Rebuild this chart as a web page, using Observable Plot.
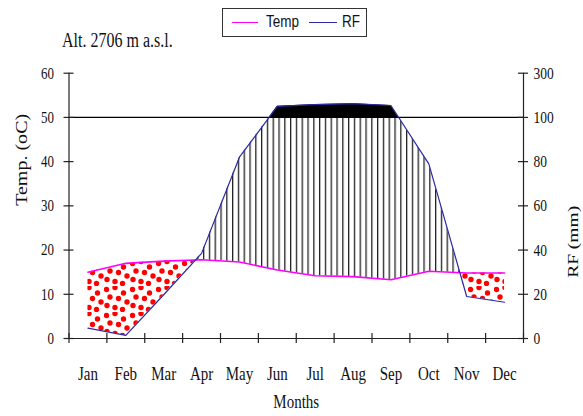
<!DOCTYPE html>
<html><head><meta charset="utf-8">
<script src="https://cdn.jsdelivr.net/npm/d3@7"></script>
<script src="https://cdn.jsdelivr.net/npm/@observablehq/plot@0.6"></script>
<style>
html,body{margin:0;padding:0;background:#fff;}
#wrap{position:relative;width:583px;height:416px;overflow:hidden;}
#wrap svg{position:absolute;left:0;top:0;}
.title{position:absolute;left:62px;top:32px;font-size:16px;line-height:17px;font-family:"Liberation Serif",serif;transform:scaleY(1.25);transform-origin:left center;white-space:nowrap;color:#111;}
.legend{position:absolute;left:222px;top:8px;width:145px;height:29px;border:1.5px solid #333;box-sizing:border-box;background:#fff;font-family:"Liberation Sans",sans-serif;font-size:13.5px;}
.legend .ln{position:absolute;top:13px;height:0;border-top:1.6px solid;}
.legend .tx{position:absolute;top:5px;line-height:16px;transform:scaleY(1.25);transform-origin:left center;color:#111;}
</style></head><body>
<div id="wrap">
  <div class="title">Alt. 2706 m a.s.l.</div>
  <div class="legend">
    <div class="ln" style="left:9px;width:26px;border-color:#ff00ff"></div>
    <div class="tx" style="left:43px">Temp</div>
    <div class="ln" style="left:86px;width:28px;border-color:#2a2aa6"></div>
    <div class="tx" style="left:119px">RF</div>
  </div>
</div>
<script>
const months = ["Jan","Feb","Mar","Apr","May","Jun","Jul","Aug","Sep","Oct","Nov","Dec"];
const temp = [15.0, 17.0, 17.5, 17.8, 17.3, 15.5, 14.2, 14.0, 13.3, 15.2, 14.8, 14.8];
const rf = [4.7, 1.4, 19.8, 38.5, 82, 150, 158, 162, 154, 79, 19, 16.4];
const tempTicks = [0, 10, 20, 30, 40, 50, 60];
const rfTicks = [0, 20, 40, 60, 80, 100, 300];

// Walter–Lieth rainfall scale: 0–100 mm -> 0–50, above 100 mm compressed 1:10
const rfToY = v => v <= 100 ? v / 2 : 50 + (v - 100) / 20;

const pts = months.map((m, i) => ({x: i + 0.5, t: temp[i], r: rfToY(rf[i])}));

// polyline including exact crossing points (RF vs Temp, RF vs 100 mm line)
const geo = [];
for (let i = 0; i < pts.length; i++) {
  const a = pts[i];
  geo.push(a);
  if (i === pts.length - 1) break;
  const b = pts[i + 1];
  const ts = [];
  const cross = (fa, fb) => { if ((fa < 0 && fb > 0) || (fa > 0 && fb < 0)) ts.push(fa / (fa - fb)); };
  cross(a.r - a.t, b.r - b.t);
  cross(a.r - 50, b.r - 50);
  ts.sort((p, q) => p - q);
  for (const s of ts) geo.push({x: a.x + s * (b.x - a.x), t: a.t + s * (b.t - a.t), r: a.r + s * (b.r - a.r)});
}

const ax = "#222";
const svg = Plot.plot({
  width: 583, height: 416,
  marginLeft: 68.5, marginRight: 60, marginTop: 72.7, marginBottom: 78,
  x: {domain: [0, 12], axis: null},
  y: {domain: [0, 60], axis: null},
  style: {fontFamily: '"Liberation Serif", serif', background: "transparent", color: "#111"},
  marks: [
    Plot.areaY(geo, {x: "x", y1: "t", y2: d => Math.max(d.t, Math.min(d.r, 50)), fill: "url(#hatch)"}),
    Plot.areaY(geo, {x: "x", y1: "r", y2: d => Math.max(d.r, d.t), fill: "url(#dots)"}),
    Plot.areaY(geo, {x: "x", y1: 50, y2: d => Math.max(d.r, 50), fill: "black"}),
    Plot.ruleY([50], {stroke: "black", strokeWidth: 1.3}),
    Plot.lineY(pts, {x: "x", y: "t", stroke: "#ff00ff", strokeWidth: 1.6}),
    Plot.lineY(pts, {x: "x", y: "r", stroke: "#2a2aa6", strokeWidth: 1.2}),
    Plot.ruleX([0, 12], {stroke: ax, strokeWidth: 1.2}),
    Plot.ruleY([0], {stroke: ax, strokeWidth: 1.2}),
    Plot.ruleY(tempTicks, {x1: 0, x2: 0, insetLeft: -5, insetRight: -5, stroke: ax, strokeWidth: 1.2}),
    Plot.ruleY(rfTicks.map(rfToY), {x1: 12, x2: 12, insetLeft: -5, insetRight: -5, stroke: ax, strokeWidth: 1.2}),
    Plot.ruleX(d3.range(months.length + 1), {y1: 0, y2: 0, insetTop: -5, insetBottom: -5, stroke: ax, strokeWidth: 1.2}),
    Plot.text(tempTicks, {x: 0, y: d => d, text: d => String(d), textAnchor: "end", dx: -15, fontSize: 13}),
    Plot.text(rfTicks, {x: 12, y: rfToY, text: d => String(d), textAnchor: "start", dx: 10, fontSize: 13.5}),
    Plot.text(months, {x: (d, i) => i + 0.5, y: 0, dy: 35, text: d => d, fontSize: 15}),
    Plot.text(["Months"], {frameAnchor: "bottom", dy: 69, text: d => d, fontSize: 15}),
    Plot.text(["Temp. (oC)"], {frameAnchor: "left", dx: -47.5, rotate: -90, text: d => d, fontSize: 16}),
    Plot.text(["RF (mm)"], {frameAnchor: "right", dx: 50, rotate: -90, text: d => d, fontSize: 14})
  ]
});

const s = d3.select(svg);
const defs = s.insert("defs", ":first-child");
const hatch = defs.append("pattern").attr("id", "hatch").attr("patternUnits", "userSpaceOnUse")
  .attr("width", 5.8).attr("height", 10);
hatch.append("rect").attr("x", 0).attr("y", 0).attr("width", 1.3).attr("height", 10).attr("fill", "#222");
const dots = defs.append("pattern").attr("id", "dots").attr("patternUnits", "userSpaceOnUse")
  .attr("width", 26).attr("height", 26);
[[2.5,3.5],[11,1.5],[19.5,7],[6,11],[14.5,12.5],[23,16],[3,19.5],[11,21.5],[18.5,23.5]]
  .forEach(([cx, cy]) => dots.append("circle").attr("cx", cx).attr("cy", cy).attr("r", 2.7).attr("fill", "#ff0000"));

s.selectAll("text").each(function() {
  const tr = this.getAttribute("transform") || "";
  const txt = this.textContent;
  if (tr.includes("rotate")) {
    this.setAttribute("textLength", txt.startsWith("Temp") ? 92 : 72);
    this.setAttribute("lengthAdjust", "spacingAndGlyphs");
  } else {
    this.setAttribute("transform", tr + " scale(1,1.3)");
  }
});

document.getElementById("wrap").prepend(svg);
</script>
</body></html>
